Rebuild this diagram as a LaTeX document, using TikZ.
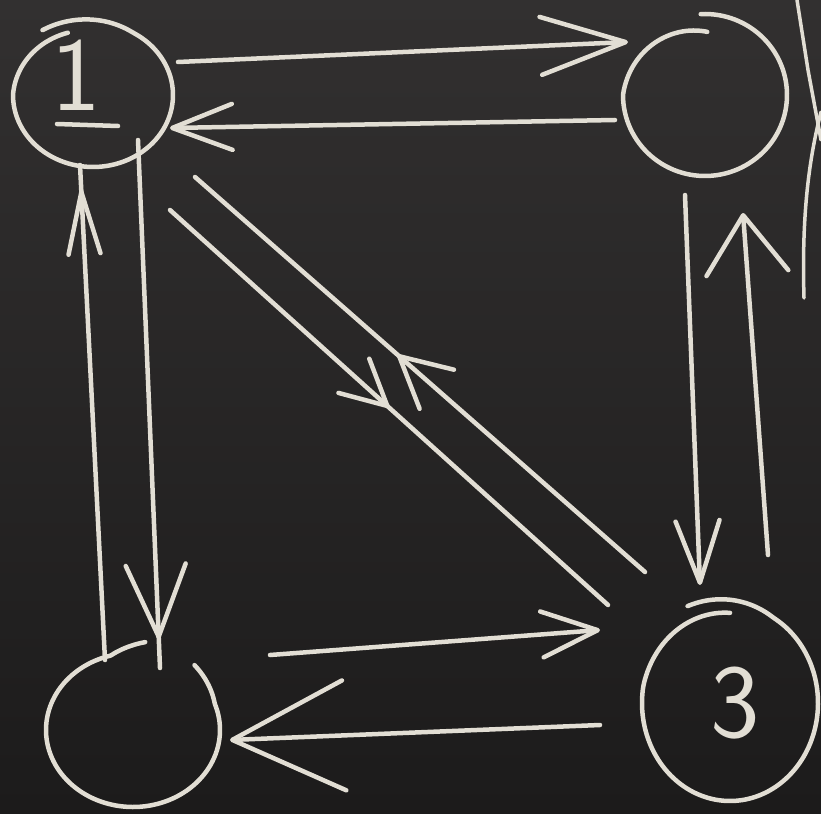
\documentclass[tikz,border=0pt]{standalone}
\usetikzlibrary{arrows.meta,calc,decorations.markings}
\definecolor{chalk}{RGB}{226,222,212}
\definecolor{boardtop}{RGB}{50,48,48}
\definecolor{boardbot}{RGB}{28,27,27}
\begin{document}
\begin{tikzpicture}[x=1pt,y=-1pt,
  chalkline/.style={draw=chalk,line width=4.5pt,line cap=round,line join=round},
  thinchalk/.style={draw=chalk,line width=3.5pt,line cap=round,line join=round},
  statenode/.style={circle,draw=none,minimum size=150pt,inner sep=0pt},
  chalktext/.style={text=chalk,inner sep=0pt,font=\sffamily\fontsize{105}{105}\selectfont},
  midhead/.style n args={3}{postaction={decorate},decoration={markings,
     mark=at position #1 with {\arrow{Straight Barb[length=#2,width=#3,round]}}}}]
\fill[top color=boardtop,bottom color=boardbot] (0,0) rectangle (821,813);
\useasboundingbox (0,0) rectangle (821,813);

% state nodes
\node[statenode] (n1) at (93,95) {};
\node[statenode] (n2) at (705,95) {};
\node[statenode] (n3) at (730,703) {};
\node[statenode] (n4) at (133,730) {};

% hand-drawn circles
\draw[chalkline,shift={(n1.center)}] plot[domain=-125:250,samples=120,smooth]
  ({80*(1+0.1*max(0,(-60-\x)/65)-0.08*max(0,(\x-180)/70))*cos(\x)},
   {72*(1+0.1*max(0,(-60-\x)/65)-0.08*max(0,(\x-180)/70))*sin(\x)});
\draw[chalkline,shift={(n2.center)}] plot[domain=-93:272,samples=120,smooth]
  ({82*(1-0.22*max(0,(\x-180)/92))*cos(\x)},
   {81*(1-0.22*max(0,(\x-180)/92))*sin(\x)});
\draw[chalkline,shift={(n3.center)}] plot[domain=-116:270,samples=120,smooth]
  ({88*(1+0.1*max(0,(-60-\x)/56)-0.08*max(0,(\x-190)/80))*cos(\x)},
   {98*(1+0.1*max(0,(-60-\x)/56)-0.08*max(0,(\x-190)/80))*sin(\x)});
\draw[chalkline,shift={(n4.center)}] plot[domain=-50:277,samples=120,smooth]
  ({87*(1+0.1*max(0,(-20-\x)/30)+0.15*max(0,(\x-255)/22))*cos(\x)},
   {77*(1+0.1*max(0,(-20-\x)/30)+0.15*max(0,(\x-255)/22))*sin(\x)});

% labels
\node[chalktext] (t1) at ($(n1)+(-17,-20)$) {1};
\draw[chalkline] ($(n1)+(-36,29)$) -- ($(n1)+(25,31)$);
\node[chalktext] (t3) at ($(n3)+(5,0)$) {3};

% top pair
\draw[chalkline,-{Straight Barb[length=85pt,width=58pt,round]}]
  ($(n1)+(85,-33)$) -- ($(n2)+(-77,-53)$);
\draw[chalkline,-{Straight Barb[length=60pt,width=46pt,round]}]
  ($(n2)+(-90,25)$) -- ($(n1)+(77,33)$);

% left pair
\draw[chalkline,midhead={0.945}{72pt}{60pt}]
  ($(n1)+(45,45)$) -- ($(n4)+(27,-62)$);
\draw[chalkline,midhead={0.95}{62pt}{32pt}]
  ($(n4)+(-28,-70)$) -- ($(n1)+(-13,70)$);

% diagonal pair
\draw[chalkline,midhead={0.5}{45pt}{46pt}]
  ($(n1)+(77,115)$) -- ($(n3)+(-122,-98)$);
\draw[chalkline,midhead={0.55}{50pt}{52pt}]
  ($(n3)+(-85,-131)$) -- ($(n1)+(102,82)$);

% right pair
\draw[chalkline,-{Straight Barb[length=62pt,width=44pt,round]}]
  ($(n2)+(-20,100)$) -- ($(n3)+(-30,-118)$);
\draw[chalkline,-{Straight Barb[length=58pt,width=82pt,round]}]
  ($(n3)+(38,-148)$) -- ($(n2)+(38,118)$);

% bottom pair
\draw[chalkline,-{Straight Barb[length=56pt,width=46pt,round]}]
  ($(n4)+(137,-75)$) -- ($(n3)+(-130,-73)$);
\draw[chalkline,-{Straight Barb[length=112pt,width=110pt,round]}]
  ($(n3)+(-130,22)$) -- ($(n4)+(97,10)$);

% strokes at the right edge of the board
\draw[thinchalk] (797,0) -- (808,70) -- (821,140);
\draw[thinchalk] (821,112) .. controls (806,170) and (802,230) .. (804,298);
\end{tikzpicture}
\end{document}
